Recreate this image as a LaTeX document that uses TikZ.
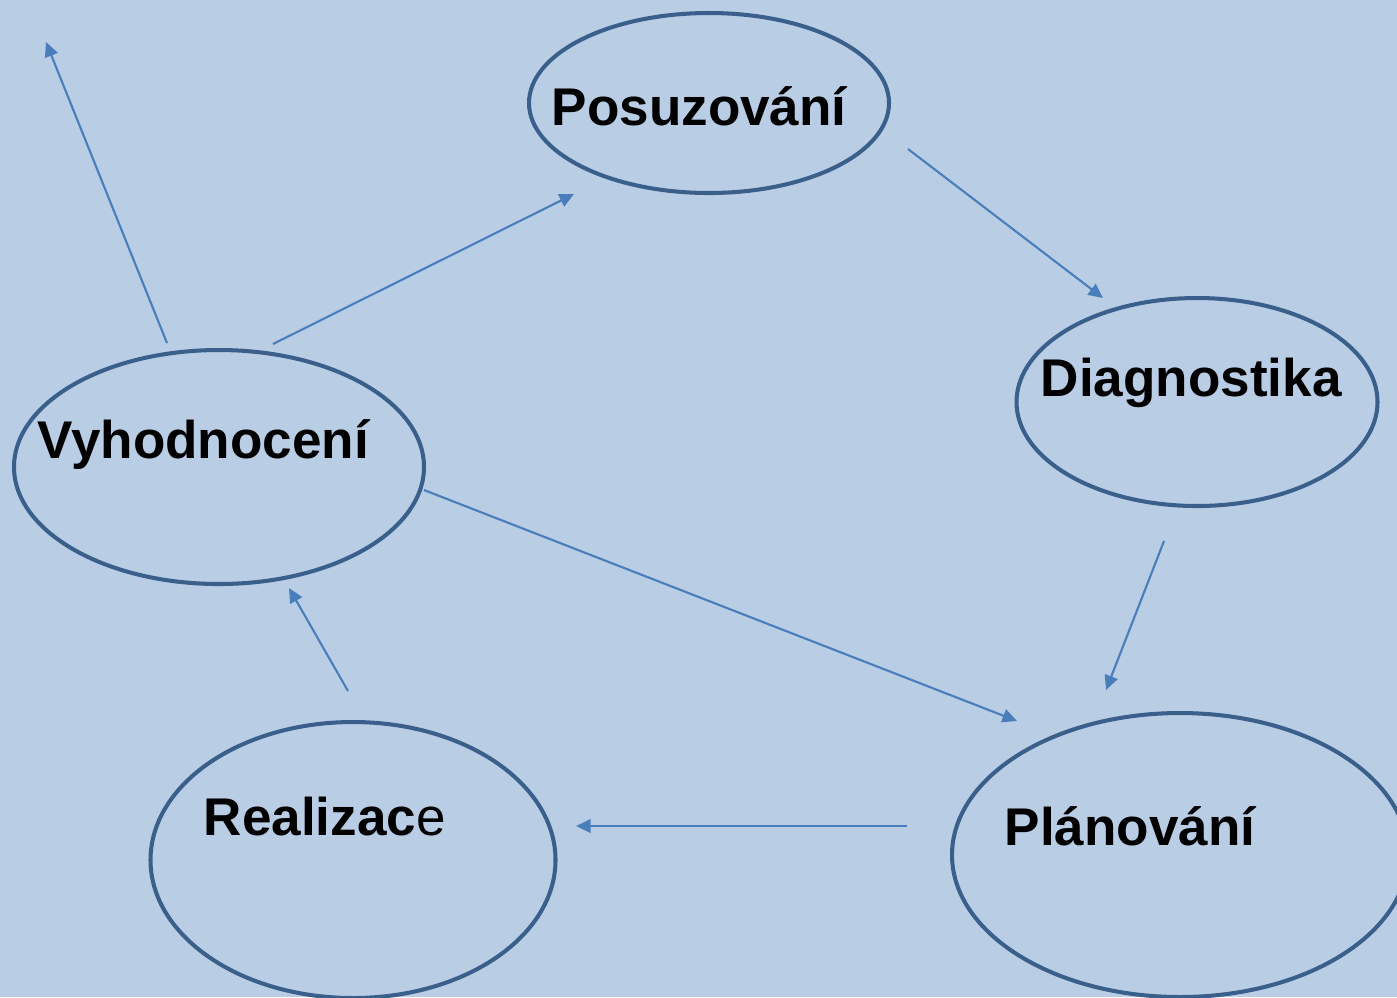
\documentclass[tikz,border=0pt]{standalone}
\usepackage{fontspec}
\setmainfont{Liberation Sans}
\usetikzlibrary{shapes.geometric, arrows.meta}

\definecolor{bgblue}{HTML}{B9CDE5}
\definecolor{rimblue}{HTML}{3A5F8B}
\definecolor{arrowblue}{HTML}{4A7EBB}

\tikzset{
  phase/.style={ellipse, draw=rimblue, line width=1.15pt, inner sep=0pt},
  phasetext/.style={anchor=base west, inner sep=0pt, font=\fontsize{15.1}{18}\selectfont\bfseries},
  flow/.style={draw=arrowblue, line width=0.6pt, -{Triangle[length=1.45mm, width=1.35mm]}}
}

\begin{document}
\begin{tikzpicture}[x=0.1mm, y=-0.1mm]
    \fill[bgblue] (0,0) rectangle (1397,997);
    \useasboundingbox (0,0) rectangle (1397,997);
    \clip (0,0) rectangle (1397,997);

    % ellipses
    \node[phase, minimum width=36mm, minimum height=18mm] (pos) at (709, 103) {};
    \node[phase, minimum width=36.1mm, minimum height=20.8mm] (dia) at (1197, 402) {};
    \node[phase, minimum width=41mm, minimum height=23.4mm] (vyh) at (219, 467) {};
    \node[phase, minimum width=40.5mm, minimum height=27.6mm] (rea) at (353, 860) {};
    \node[phase, minimum width=45.6mm, minimum height=28.4mm] (pla) at (1180, 855) {};

    % labels
    \node[phasetext] (posT) at (551, 125) {Posuzování};
    \node[phasetext] (diaT) at (1040, 396) {Diagnostika};
    \node[phasetext] (vyhT) at (37, 458) {Vyhodnocení};
    \node[phasetext] (reaT) at (203, 835) {Realizac\mdseries e};
    \node[phasetext] (plaT) at (1004, 845) {Plánování};

    % arrow ends
    \coordinate (a1) at (167, 343);  \coordinate (b1) at (46, 42);
    \coordinate (a2) at (273, 344);  \coordinate (b2) at (574, 194);
    \coordinate (a3) at (908, 149);  \coordinate (b3) at (1103, 298);
    \coordinate (a4) at (1164, 541); \coordinate (b4) at (1106, 690);
    \coordinate (a5) at (424, 490);  \coordinate (b5) at (1017, 721);
    \coordinate (a6) at (907, 826);  \coordinate (b6) at (576, 826);
    \coordinate (a7) at (348, 691);  \coordinate (b7) at (289, 588);

    \draw[flow] (a1) -- (b1);
    \draw[flow] (a2) -- (b2);
    \draw[flow] (a3) -- (b3);
    \draw[flow] (a4) -- (b4);
    \draw[flow] (a5) -- (b5);
    \draw[flow] (a6) -- (b6);
    \draw[flow] (a7) -- (b7);
\end{tikzpicture}
\end{document}
